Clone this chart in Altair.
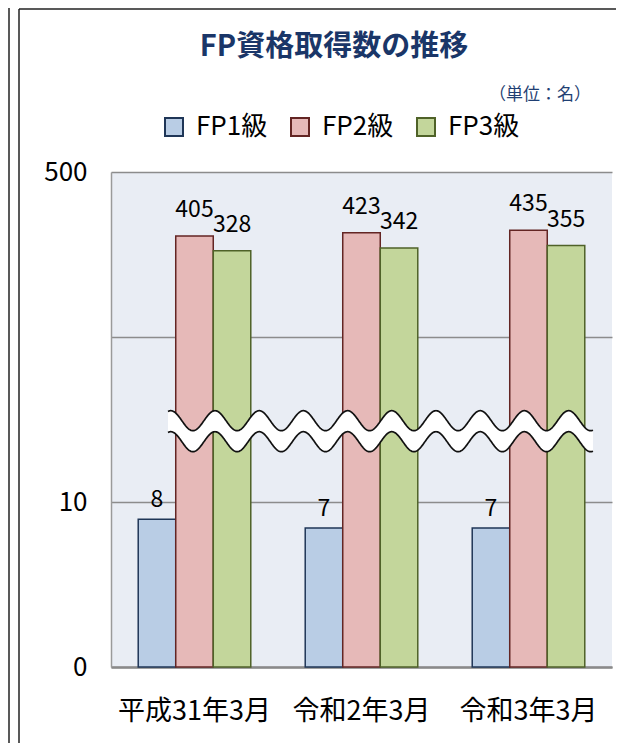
import altair as alt
import pandas as pd

# ---- data ----
periods = ["平成31年3月", "令和2年3月", "令和3年3月"]
series = ["FP1級", "FP2級", "FP3級"]
fp1 = [8, 7, 7]
fp2 = [405, 423, 435]
fp3 = [328, 342, 355]
y_tick_values = [0, 10, 200, 500]

fills = ["#B9CDE5", "#E6B9B8", "#C3D69B"]
strokes = ["#1F3657", "#632523", "#4F6228"]

rows = []
for i, p in enumerate(periods):
    for s, vals in zip(series, [fp1, fp2, fp3]):
        rows.append({"period": p, "series": s, "value": vals[i]})
df = pd.DataFrame(rows)

JP = "Noto Sans CJK JP"
W, H = 501, 495

# broken (piecewise) y scale
yscale = alt.Scale(domain=[0, 7, 10, 200, 300, 450, 500],
                   range=[H, 356, 330, 165, 84, 55.5, 0],
                   nice=False, zero=False)

label_expr = "datum.value == 200 ? '' : datum.label"

base = alt.Chart(df)

x_enc = alt.X("period:N", sort=periods, title=None,
              scale=alt.Scale(paddingInner=0.326, paddingOuter=0.163),
              axis=alt.Axis(labelAngle=0, labelFont=JP, labelFontSize=27,
                            labelColor="#000000", labelPadding=31,
                            ticks=False, domainColor="#8A8A8A",
                            domainWidth=2.5, grid=False))
xoff = alt.XOffset("series:N", sort=series, scale=alt.Scale(paddingInner=0, paddingOuter=0))

bars = base.mark_bar(strokeWidth=1.5).encode(
    x=x_enc,
    xOffset=xoff,
    y=alt.Y("value:Q", scale=yscale, title=None,
            axis=alt.Axis(values=y_tick_values, labelExpr=label_expr,
                          labelFont=JP, labelFontSize=26, labelColor="#000000",
                          labelPadding=24, ticks=False, domainColor="#9A9A9A",
                          domainWidth=1.5, gridColor="#8C8C8C", gridWidth=1.3)),
    fill=alt.Fill("series:N", sort=series,
                  scale=alt.Scale(domain=series, range=fills),
                  legend=alt.Legend(title=None, orient="none", direction="horizontal",
                                    legendX=50, legendY=-58,
                                    symbolType="square", symbolSize=324,
                                    symbolStrokeWidth=2, labelFont=JP,
                                    labelFontSize=26, labelColor="#000000",
                                    labelOffset=9, columnPadding=19)),
    stroke=alt.Stroke("series:N", sort=series,
                      scale=alt.Scale(domain=series, range=strokes)),
)

lab_low = base.transform_filter("datum.value < 100").mark_text(
    font=JP, fontSize=23, color="#000000", baseline="alphabetic", dy=-12
).encode(x=alt.X("period:N", sort=periods), xOffset=xoff,
         y=alt.Y("value:Q", scale=yscale), text="value:Q")

lab_high = base.transform_filter("datum.value >= 100").mark_text(
    font=JP, fontSize=23, color="#000000", baseline="alphabetic", dy=-19
).encode(x=alt.X("period:N", sort=periods), xOffset=xoff,
         y=alt.Y("value:Q", scale=yscale), text="value:Q")

# wavy break decoration (pixel space)
wave_src = alt.Chart(alt.sequence(0, 851, 1, as_="i")).transform_calculate(
    px="57 + datum.i / 2",
    y1="248.7 - 10 * cos(2 * PI * (datum.i / 2 - 47) / 44.2)",
).transform_calculate(y2="datum.y1 + 21")

wave_fill = wave_src.mark_area(color="white", opacity=1).encode(
    x=alt.X("px:Q", scale=None), y=alt.Y("y1:Q", scale=None), y2="y2:Q")
wave_top = wave_src.mark_line(color="#111111", strokeWidth=1.7).encode(
    x=alt.X("px:Q", scale=None), y=alt.Y("y1:Q", scale=None))
wave_bot = wave_src.mark_line(color="#111111", strokeWidth=1.7).encode(
    x=alt.X("px:Q", scale=None), y=alt.Y("y2:Q", scale=None))

one = alt.Data(values=[{"k": 1}])
title_txt = alt.Chart(one).mark_text(
    text="FP資格取得数の推移", font=JP, fontSize=29, fontWeight="bold",
    color="#1A3668", baseline="middle", align="center"
).encode(x=alt.value(223), y=alt.value(-125))
unit_txt = alt.Chart(one).mark_text(
    text="（単位：名）", font=JP, fontSize=17, color="#1F3F73",
    baseline="middle", align="center"
).encode(x=alt.value(429), y=alt.value(-77))

frame_l1 = alt.Chart(one).mark_rule(color="#222222", strokeWidth=1.5).encode(
    x=alt.value(-102), y=alt.value(-175), y2=alt.value(580))
frame_l2 = alt.Chart(one).mark_rule(color="#222222", strokeWidth=1.5).encode(
    x=alt.value(-92), y=alt.value(-163), y2=alt.value(580))
frame_t = alt.Chart(one).mark_rule(color="#222222", strokeWidth=1.5).encode(
    x=alt.value(-92), x2=alt.value(510), y=alt.value(-163))

chart = alt.layer(
    bars, lab_low, lab_high, wave_fill, wave_top, wave_bot,
    title_txt, unit_txt, frame_l1, frame_l2, frame_t
).properties(
    width=W, height=H,
    autosize=alt.AutoSizeParams(type="none"),
    padding={"left": 103, "top": 164, "right": 4, "bottom": 76},
    background="white",
).configure_view(fill="#E9EDF4", stroke=None)

chart.save("out.html", embed_options={"renderer": "svg", "actions": False})
